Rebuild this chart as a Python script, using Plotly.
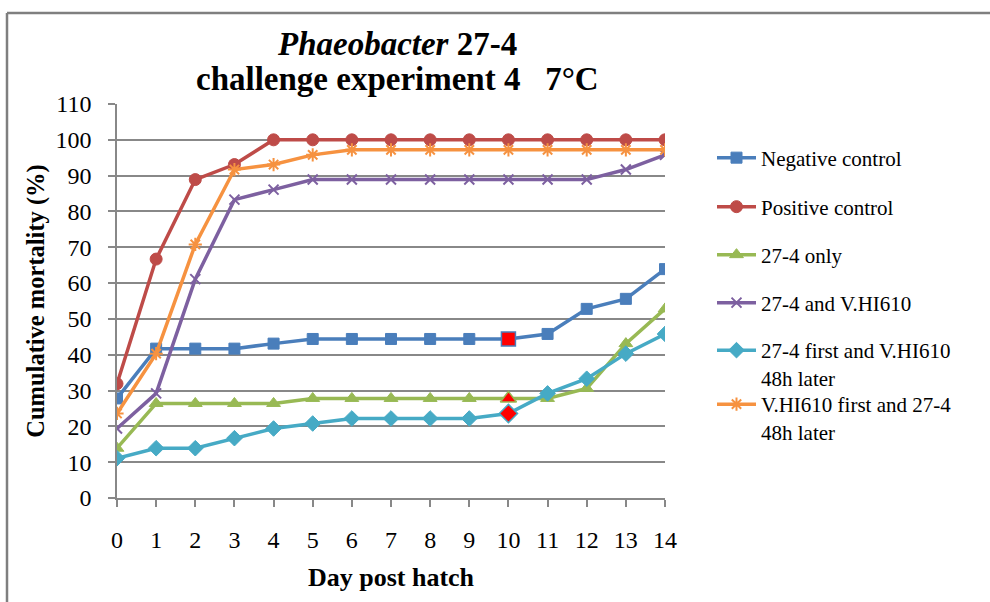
import plotly.graph_objects as go

days = list(range(15))

neg_control = [27.8, 41.7, 41.7, 41.7, 43.1, 44.4, 44.4, 44.4, 44.4, 44.4, 44.4, 45.8, 52.8, 55.6, 63.9]
pos_control = [31.9, 66.7, 88.9, 93.1, 100, 100, 100, 100, 100, 100, 100, 100, 100, 100, 100]
only_27_4 = [13.9, 26.4, 26.4, 26.4, 26.4, 27.8, 27.8, 27.8, 27.8, 27.8, 27.8, 27.8, 30.6, 43.1, 52.8]
and_vhi = [19.4, 29.2, 61.1, 83.3, 86.1, 88.9, 88.9, 88.9, 88.9, 88.9, 88.9, 88.9, 88.9, 91.7, 95.8]
first_27_4 = [11.1, 13.9, 13.9, 16.7, 19.4, 20.8, 22.2, 22.2, 22.2, 22.2, 23.6, 29.2, 33.3, 40.3, 45.8]
first_vhi = [23.6, 40.3, 70.8, 91.7, 93.1, 95.8, 97.2, 97.2, 97.2, 97.2, 97.2, 97.2, 97.2, 97.2, 97.2]

names = ["Negative control", "Positive control", "27-4 only", "27-4 and V.HI610",
         "27-4 first and V.HI610<br>48h later", "V.HI610 first and 27-4<br>48h later"]
series = [neg_control, pos_control, only_27_4, and_vhi, first_27_4, first_vhi]
colors = ["#4A7EBB", "#BE4B48", "#98B954", "#7D60A0", "#46AAC5", "#F69240"]
symbols = ["square", "circle", "triangle-up", "x-thin-open", "diamond", "asterisk-open"]
sizes = [11, 12, 12, 10, 12, 11]

title_line1 = "<b><i>Phaeobacter</i> 27-4</b>"
title_line2 = "<b>challenge experiment 4\u00a0\u00a0\u00a07°C</b>"

highlight_day = 10
highlight_idx = [0, 2, 4]

FONT = "Liberation Serif, Times New Roman, serif"

fig = go.Figure()
legend_names = ["legend", "legend2", "legend3", "legend4", "legend5", "legend6"]
for i, (nm, ys) in enumerate(zip(names, series)):
    mk = dict(symbol=symbols[i], size=sizes[i], color=colors[i])
    if symbols[i].endswith("open"):
        mk["line"] = dict(color=colors[i], width=2)
    else:
        mk["line"] = dict(color=colors[i], width=1)
    fig.add_trace(go.Scatter(x=days, y=ys, name=nm, mode="lines+markers",
                             line=dict(color=colors[i], width=3.5),
                             marker=mk, legend=legend_names[i]))

# highlighted red markers at day 10
fig.add_trace(go.Scatter(
    x=[highlight_day] * len(highlight_idx),
    y=[series[i][highlight_day] for i in highlight_idx],
    mode="markers", showlegend=False,
    marker=dict(symbol=[symbols[i] for i in highlight_idx], size=14, color="#FF0000",
                line=dict(color=[colors[i] for i in highlight_idx], width=1.5))))

# plot area: x 117..665, y 104..498
L, R, T, B = 117, 665, 104, 498
W, H = 990, 602
pw, ph = R - L, B - T

def px_to_paper(xp, yp):
    return (xp - L) / pw, (B - yp) / ph

legend_centers = [158, 207, 255, 303, 364, 418]
layout_legends = {}
for ln, yc in zip(legend_names, legend_centers):
    xpp, ypp = px_to_paper(712, yc)
    layout_legends[ln] = dict(x=xpp, y=ypp, xanchor="left", yanchor="middle",
                              font=dict(family=FONT, size=21, color="black"),
                              bgcolor="rgba(0,0,0,0)", valign="top",
                              itemwidth=39)

grid_col = "#888888"
fig.update_layout(
    width=W, height=H,
    margin=dict(l=L, r=W - R, t=T, b=H - B),
    paper_bgcolor="white", plot_bgcolor="white",
    font=dict(family=FONT, color="black"),
    xaxis=dict(range=[0, 14], tickmode="linear", dtick=1, showgrid=False, zeroline=False,
               showline=True, linecolor=grid_col, linewidth=1.5,
               ticks="outside", ticklen=7, tickcolor=grid_col, tickwidth=1.5,
               tickfont=dict(family=FONT, size=24, color="black"),
               ticklabelstandoff=12,
               title=dict(text="<b>Day post hatch</b>", standoff=16,
                          font=dict(family=FONT, size=26, color="black"))),
    yaxis=dict(range=[0, 110], tickmode="linear", dtick=10, showgrid=True,
               gridcolor=grid_col, gridwidth=1.5, zeroline=False,
               showline=True, linecolor=grid_col, linewidth=1.5,
               ticks="outside", ticklen=7, tickcolor=grid_col, tickwidth=1.5,
               tickfont=dict(family=FONT, size=24, color="black"),
               ticklabelstandoff=12,
               title=dict(text="<b>Cumulative mortality (%)</b>", standoff=4,
                          font=dict(family=FONT, size=24.5, color="black"))),
    **layout_legends,
)

# two-line chart title with tight line spacing
tx, _ = px_to_paper(397, 0)
for txt, yc in [(title_line1, 44), (title_line2, 79)]:
    _, ty = px_to_paper(0, yc)
    fig.add_annotation(text=txt, xref="paper", yref="paper", x=tx, y=ty,
                       xanchor="center", yanchor="middle", showarrow=False,
                       font=dict(family=FONT, size=33, color="black"))

# outer chart frame (top and left edges visible)
x0, y0 = px_to_paper(7, 13)
x1, _ = px_to_paper(W + 5, 13)
_, y1 = px_to_paper(7, H + 5)
fig.add_shape(type="line", xref="paper", yref="paper", x0=x0, y0=y0, x1=x1, y1=y0,
              line=dict(color="#7F7F7F", width=2.5))
fig.add_shape(type="line", xref="paper", yref="paper", x0=x0, y0=y0, x1=x0, y1=y1,
              line=dict(color="#7F7F7F", width=2.5))

fig.write_html("out.html")
